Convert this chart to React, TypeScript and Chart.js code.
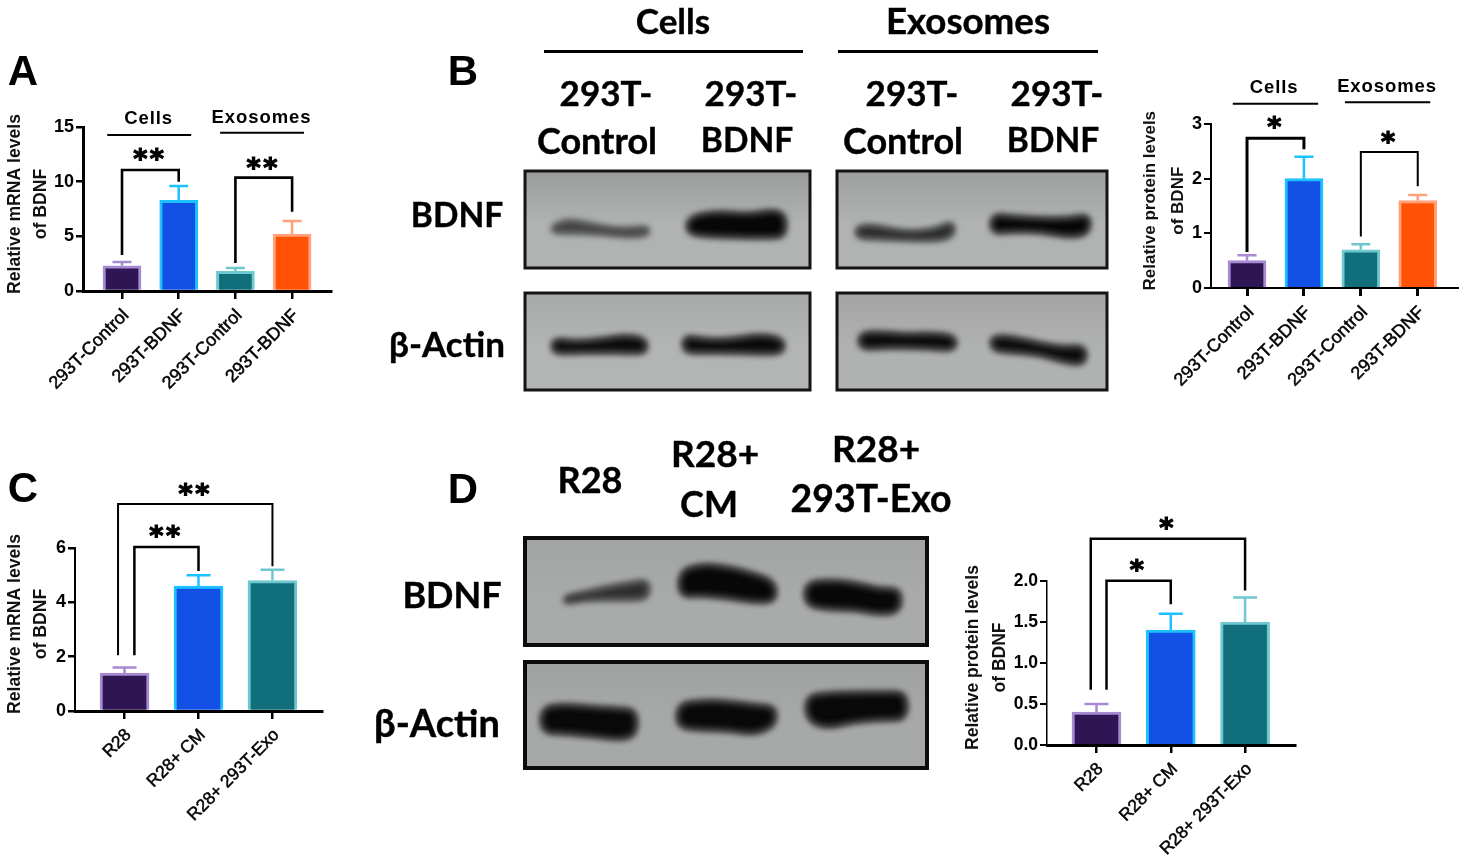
import React, { useEffect, useRef } from "react";
import { Chart, registerables } from "chart.js";

Chart.register(...registerables);

// ---------- data ----------
const labelsTransfected = ["293T-Control", "293T-BDNF", "293T-Control", "293T-BDNF"];
const labelsTreatment = ["R28", "R28+ CM", "R28+ 293T-Exo"];

const panelAValues = [2.3, 8.3, 1.8, 5.2];
const panelAErrorTops = [2.65, 9.6, 2.1, 6.4];
const panelBValues = [0.5, 2.0, 0.7, 1.6];
const panelBErrorTops = [0.6, 2.4, 0.8, 1.7];
const panelCValues = [1.4, 4.6, 4.8];
const panelCErrorTops = [1.6, 5.0, 5.2];
const panelDValues = [0.4, 1.4, 1.5];
const panelDErrorTops = [0.5, 1.6, 1.8];

const fillsABar = ["#2e1654", "#1350e6", "#106f7b", "#ff5205"];
const edgesABar = ["#a78ad2", "#1cc2ff", "#6fc8cf", "#ffa27c"];
const fillsCBar = ["#2e1654", "#1350e6", "#106f7b"];
const edgesCBar = ["#a78ad2", "#1cc2ff", "#6fc8cf"];

// brackets, in axis units: from (x0,y0) up to top, across, down to (x1,y1)
const panelABrackets = [
  { x0: 0, y0: 3.3, x1: 1, y1: 10.0, top: 11.07, w: 2.6 },
  { x0: 2, y0: 2.56, x1: 3, y1: 7.25, top: 10.37, w: 2.6 },
];
const panelBBrackets = [
  { x0: 0, y0: 0.66, x1: 1, y1: 2.54, top: 2.74, w: 3 },
  { x0: 2, y0: 0.94, x1: 3, y1: 1.86, top: 2.49, w: 2 },
];
const panelCBrackets = [
  { x0: -0.088, y0: 2.05, x1: 2, y1: 5.33, top: 7.62, w: 2 },
  { x0: 0.133, y0: 2.05, x1: 1, y1: 5.15, top: 6.04, w: 2.5 },
];
const panelDBrackets = [
  { x0: -0.077, y0: 0.673, x1: 2, y1: 1.883, top: 2.515, w: 2.5 },
  { x0: 0.135, y0: 0.673, x1: 1, y1: 1.715, top: 2.004, w: 2.5 },
];

const panelAStars = [
  { text: "**", x: 0.49, y: 12.5 },
  { text: "**", x: 2.49, y: 11.7 },
];
const panelBStars = [
  { text: "*", x: 0.5, y: 3.02 },
  { text: "*", x: 2.5, y: 2.76 },
];
const panelCStars = [
  { text: "**", x: 0.955, y: 8.16 },
  { text: "**", x: 0.56, y: 6.61 },
];
const panelDStars = [
  { text: "*", x: 0.957, y: 2.706 },
  { text: "*", x: 0.56, y: 2.186 },
];

const panelAHeaders = [
  { text: "Cells", x: 0.47, y: 15.9, lineY: 14.27, from: -0.26, to: 1.22 },
  { text: "Exosomes", x: 2.46, y: 16.0, lineY: 14.48, from: 1.73, to: 3.21 },
];
const panelBHeaders = [
  { text: "Cells", x: 0.475, y: 3.69, lineY: 3.37, from: -0.25, to: 1.25 },
  { text: "Exosomes", x: 2.46, y: 3.7, lineY: 3.4, from: 1.72, to: 3.22 },
];

// ---------- layout of the four charts ----------
const chartConfigs = [
  {
    box: { left: 0, top: 60, width: 345, height: 340, axisX: 83, topY: 127, bottomY: 291, rightX: 331 },
    labels: labelsTransfected, values: panelAValues, tops: panelAErrorTops, fills: fillsABar, edges: edgesABar,
    brackets: panelABrackets, stars: panelAStars, headers: panelAHeaders,
    xMin: -0.688, xMax: 3.686, yMax: 15, step: 5, decimals: 0, barW: 38, capW: 19,
    title: ["Relative mRNA levels", "of BDNF"], titleSize: 17.6, titleLine: 26.5, titlePad: 1.8, titleCenter: 204,
    yBorder: 3, xBorder: 3, yTick: 2.5, xTick: 2.5, tickFont: 18, labelFont: 18,
  },
  {
    box: { left: 1130, top: 60, width: 335, height: 340, axisX: 1211, topY: 124, bottomY: 288, rightX: 1457 },
    labels: labelsTransfected, values: panelBValues, tops: panelBErrorTops, fills: fillsABar, edges: edgesABar,
    brackets: panelBBrackets, stars: panelBStars, headers: panelBHeaders,
    xMin: -0.633, xMax: 3.69, yMax: 3, step: 1, decimals: 0, barW: 38, capW: 19,
    title: ["Relative protein levels", "of BDNF"], titleSize: 17, titleLine: 28, titlePad: 6, titleCenter: 200.7,
    yBorder: 2, xBorder: 2, yTick: 2, xTick: 3, tickFont: 18, labelFont: 18,
  },
  {
    box: { left: 0, top: 470, width: 345, height: 370, axisX: 75, topY: 548, bottomY: 711, rightX: 322 },
    labels: labelsTreatment, values: panelCValues, tops: panelCErrorTops, fills: fillsCBar, edges: edgesCBar,
    brackets: panelCBrackets, stars: panelCStars, headers: [],
    xMin: -0.67, xMax: 2.67, yMax: 6, step: 2, decimals: 0, barW: 49, capW: 24,
    title: ["Relative mRNA levels", "of BDNF"], titleSize: 17.6, titleLine: 26, titlePad: 2, titleCenter: 624,
    yBorder: 2, xBorder: 3, yTick: 2.5, xTick: 2.5, tickFont: 18, labelFont: 17.4,
  },
  {
    box: { left: 955, top: 505, width: 345, height: 357, axisX: 1047, topY: 581, bottomY: 745, rightX: 1295 },
    labels: labelsTreatment, values: panelDValues, tops: panelDErrorTops, fills: fillsCBar, edges: edgesCBar,
    brackets: panelDBrackets, stars: panelDStars, headers: [],
    xMin: -0.666, xMax: 2.672, yMax: 2, step: 0.5, decimals: 1, barW: 49, capW: 24,
    title: ["Relative protein levels", "of BDNF"], titleSize: 17.5, titleLine: 27.7, titlePad: 4, titleCenter: 657.5,
    yBorder: 1.5, xBorder: 3, yTick: 2, xTick: 2.5, tickFont: 17.5, labelFont: 17.4,
  },
];

// ---------- plates and captions around the charts ----------
const panelLetters = [
  { text: "A", x: 23, y: 71 },
  { text: "B", x: 463, y: 71 },
  { text: "C", x: 23, y: 488 },
  { text: "D", x: 463, y: 489 },
];
const blotCaptions = [
  { text: "Cells", x: 673, y: 20, size: 35 },
  { text: "Exosomes", x: 968, y: 20, size: 36.7 },
  { text: "293T-", x: 606, y: 92, size: 35 },
  { text: "Control", x: 597, y: 140, size: 36 },
  { text: "293T-", x: 751, y: 92, size: 35 },
  { text: "BDNF", x: 747, y: 140, size: 33.5 },
  { text: "293T-", x: 912, y: 92, size: 35 },
  { text: "Control", x: 903, y: 140, size: 36 },
  { text: "293T-", x: 1057, y: 92, size: 35 },
  { text: "BDNF", x: 1053, y: 140, size: 33.5 },
  { text: "BDNF", x: 457, y: 215, size: 33.5 },
  { text: "β-Actin", x: 447, y: 343, size: 35 },
  { text: "R28", x: 590, y: 479, size: 36 },
  { text: "R28+", x: 715, y: 452, size: 37 },
  { text: "CM", x: 709, y: 503, size: 36 },
  { text: "R28+", x: 876, y: 447, size: 37 },
  { text: "293T-Exo", x: 871, y: 498, size: 37.4 },
  { text: "BDNF", x: 452, y: 594, size: 36 },
  { text: "β-Actin", x: 437, y: 722, size: 38 },
];
const captionRules = [
  { left: 544, width: 259, top: 50 },
  { left: 838, width: 260, top: 50 },
];

type Band = { pts: number[][]; color: string };
type Frame = { x: number; y: number; w: number; h: number; light: string; dark: string; edge: string; lw: number; bands: Band[] };

const blotFrames: Frame[] = [
  {
    x: 525, y: 171, w: 285, h: 97, light: "#b0b3b1", dark: "#999c9a", edge: "#141414", lw: 3,
    bands: [
      { color: "#3c3d3d", pts: [[553, 229, 3], [570, 226, 6], [600, 230, 3], [625, 233, 3], [648, 231, 4]] },
      { color: "#070707", pts: [[688, 226, 8], [715, 224, 12], [750, 226, 11], [770, 224, 13], [785, 225, 11]] },
    ],
  },
  {
    x: 837, y: 171, w: 270, h: 97, light: "#b0b3b1", dark: "#9c9f9d", edge: "#141414", lw: 3,
    bands: [
      { color: "#252626", pts: [[857, 232, 5], [875, 232, 6], [905, 236, 3], [935, 235, 5], [953, 229, 7]] },
      { color: "#060606", pts: [[992, 224, 9], [1010, 224, 7], [1040, 225, 6], [1070, 228, 9], [1089, 224, 9]] },
    ],
  },
  {
    x: 525, y: 293, w: 285, h: 97, light: "#b3b5b4", dark: "#a8aaa9", edge: "#141414", lw: 3,
    bands: [
      { color: "#0a0a0a", pts: [[553, 346, 7], [575, 347, 5], [600, 346, 6], [625, 344, 8], [646, 346, 7]] },
      { color: "#0a0a0a", pts: [[684, 344, 8], [705, 346, 6], [730, 346, 6], [760, 344, 9], [783, 346, 7]] },
    ],
  },
  {
    x: 837, y: 293, w: 270, h: 97, light: "#b0b2b1", dark: "#a3a3a3", edge: "#141414", lw: 3,
    bands: [
      { color: "#0a0a0a", pts: [[860, 341, 8], [885, 340, 7], [905, 341, 6], [930, 341, 7], [955, 343, 7]] },
      { color: "#0a0a0a", pts: [[992, 343, 7], [1015, 345, 7], [1040, 349, 5], [1065, 355, 7], [1085, 355, 9]] },
    ],
  },
  {
    x: 525, y: 538, w: 402, h: 107, light: "#a9abaa", dark: "#a2a4a3", edge: "#0c0c0c", lw: 4,
    bands: [
      { color: "#2c2d2d", pts: [[565, 600, 3], [585, 596, 3], [610, 593, 6], [635, 591, 8], [648, 589, 8]] },
      { color: "#080808", pts: [[680, 584, 12], [700, 580, 15], [725, 582, 15], [750, 587, 14], [775, 592, 10]] },
      { color: "#080808", pts: [[806, 594, 11], [830, 595, 14], [855, 596, 13], [880, 602, 12], [900, 600, 11]] },
    ],
  },
  {
    x: 525, y: 662, w: 402, h: 106, light: "#a7a9a8", dark: "#a0a2a1", edge: "#0c0c0c", lw: 4,
    bands: [
      { color: "#090909", pts: [[542, 720, 12], [565, 719, 14], [595, 722, 14], [620, 724, 15], [636, 723, 12]] },
      { color: "#090909", pts: [[678, 716, 11], [700, 715, 14], [730, 716, 14], [755, 720, 14], [775, 716, 9]] },
      { color: "#090909", pts: [[807, 708, 11], [825, 711, 17], [855, 707, 14], [885, 706, 13], [906, 706, 13]] },
    ],
  },
];

const sans = '"Liberation Sans", Arial, sans-serif';

function drawBand(ctx: CanvasRenderingContext2D, band: Band) {
  const up = band.pts.map(([x, y, h]) => [x, y - h]);
  const down = band.pts.map(([x, y, h]) => [x, y + h]).reverse();
  const ring = [...up, ...down];
  ctx.beginPath();
  for (let i = 0; i < ring.length; i++) {
    const a = ring[i];
    const b = ring[(i + 1) % ring.length];
    const mx = (a[0] + b[0]) / 2;
    const my = (a[1] + b[1]) / 2;
    if (i === 0) ctx.moveTo(mx, my);
    else ctx.quadraticCurveTo(a[0], a[1], mx, my);
  }
  const a0 = ring[0];
  const b0 = ring[1];
  ctx.quadraticCurveTo(a0[0], a0[1], (a0[0] + b0[0]) / 2, (a0[1] + b0[1]) / 2);
  ctx.closePath();
  ctx.fillStyle = band.color;
  ctx.strokeStyle = band.color;
  ctx.lineWidth = 3;
  ctx.lineJoin = "round";
  ctx.fill();
  ctx.stroke();
}

function drawBlots(canvas: HTMLCanvasElement) {
  const ctx = canvas.getContext("2d");
  if (!ctx) return;
  blotFrames.forEach((f) => {
    ctx.save();
    ctx.beginPath();
    ctx.rect(f.x, f.y, f.w, f.h);
    ctx.clip();
    const g = ctx.createLinearGradient(0, f.y, 0, f.y + f.h);
    g.addColorStop(0, f.dark);
    g.addColorStop(0.55, f.light);
    g.addColorStop(1, f.light);
    ctx.fillStyle = g;
    ctx.fillRect(f.x, f.y, f.w, f.h);
    ctx.filter = "blur(3px)";
    f.bands.forEach((b) => drawBand(ctx, b));
    ctx.restore();
    ctx.save();
    ctx.filter = "blur(0.5px)";
    ctx.strokeStyle = f.edge;
    ctx.lineWidth = f.lw;
    ctx.strokeRect(f.x, f.y, f.w, f.h);
    ctx.restore();
  });
}

// ---------- chart plugin: error bars, brackets, stars, group headers ----------
const annotationsPlugin = {
  id: "figureMarks",
  afterLayout(chart: any, _a: any, opts: any) {
    // the axis title is centred on its own spot, not on the plot height
    const y = chart.scales.y;
    const original = y.drawTitle.bind(y);
    y.drawTitle = () => {
      const { top, bottom } = y;
      y.top = opts.titleCenter - opts.box.top - 160;
      y.bottom = opts.titleCenter - opts.box.top + 160;
      original();
      y.top = top;
      y.bottom = bottom;
    };
  },
  afterDatasetsDraw(chart: any, _a: any, opts: any) {
    const { ctx, scales } = chart;
    const px = (v: number) => scales.x.getPixelForValue(v);
    const py = (v: number) => scales.y.getPixelForValue(v);
    ctx.save();
    ctx.lineCap = "butt";
    opts.tops.forEach((top: number, i: number) => {
      ctx.strokeStyle = opts.edges[i];
      ctx.lineWidth = 2.5;
      ctx.beginPath();
      ctx.moveTo(px(i), py(opts.values[i]));
      ctx.lineTo(px(i), py(top));
      ctx.moveTo(px(i) - opts.capW / 2, py(top));
      ctx.lineTo(px(i) + opts.capW / 2, py(top));
      ctx.stroke();
    });
    ctx.strokeStyle = "#000";
    ctx.lineJoin = "miter";
    opts.brackets.forEach((b: any) => {
      ctx.lineWidth = b.w;
      ctx.beginPath();
      ctx.moveTo(px(b.x0), py(b.y0));
      ctx.lineTo(px(b.x0), py(b.top));
      ctx.lineTo(px(b.x1), py(b.top));
      ctx.lineTo(px(b.x1), py(b.y1));
      ctx.stroke();
    });
    ctx.fillStyle = "#000";
    ctx.textBaseline = "alphabetic";
    ctx.textAlign = "center";
    ctx.font = 'bold 27px "DejaVu Sans"';
    ctx.letterSpacing = "2.5px";
    ctx.lineWidth = 1.2;
    opts.stars.forEach((s: any) => {
      const m = ctx.measureText(s.text);
      const sy = py(s.y) + (m.actualBoundingBoxAscent - m.actualBoundingBoxDescent) / 2;
      ctx.fillText(s.text, px(s.x), sy);
      ctx.strokeText(s.text, px(s.x), sy);
    });
    ctx.letterSpacing = "0.9px";
    ctx.font = `bold 18.5px ${sans}`;
    opts.headers.forEach((h: any) => {
      const m = ctx.measureText(h.text);
      ctx.fillText(h.text, px(h.x), py(h.y) + (m.actualBoundingBoxAscent - m.actualBoundingBoxDescent) / 2);
      ctx.lineWidth = 2;
      ctx.beginPath();
      ctx.moveTo(px(h.from), py(h.lineY));
      ctx.lineTo(px(h.to), py(h.lineY));
      ctx.stroke();
    });
    ctx.restore();
  },
};

function buildChart(canvas: HTMLCanvasElement, c: (typeof chartConfigs)[number]) {
  const { box } = c;
  const yWidth = box.axisX - box.left;
  const xHeight = box.height - (box.bottomY - box.top);
  return new Chart(canvas, {
    type: "bar",
    data: {
      labels: c.labels,
      datasets: [
        {
          data: c.values.map((v, i) => ({ x: i, y: v })),
          backgroundColor: c.fills,
          borderColor: c.edges,
          borderWidth: 3,
          borderSkipped: "bottom",
          barThickness: c.barW,
        },
      ],
    } as any,
    options: {
      animation: false,
      responsive: false,
      maintainAspectRatio: false,
      events: [],
      layout: {
        padding: {
          left: 0,
          top: box.topY - box.top,
          right: box.width - (box.rightX - box.left),
          bottom: 0,
        },
      },
      plugins: {
        legend: { display: false },
        tooltip: { enabled: false },
        figureMarks: {
          box, values: c.values, tops: c.tops, edges: c.edges, brackets: c.brackets,
          stars: c.stars, headers: c.headers, capW: c.capW, titleCenter: c.titleCenter,
        },
      } as any,
      scales: {
        x: {
          type: "linear",
          offset: false,
          min: c.xMin,
          max: c.xMax,
          grid: { offset: false, drawOnChartArea: false, color: "#000", tickLength: 8, lineWidth: c.xTick },
          border: { color: "#000", width: c.xBorder },
          ticks: {
            color: "#000",
            autoSkip: false,
            includeBounds: false,
            minRotation: 45,
            maxRotation: 45,
            padding: 6,
            labelOffset: 4,
            textStrokeColor: "#000",
            textStrokeWidth: 0.5,
            font: { family: sans, size: c.labelFont },
            callback: (v: any) => c.labels[v as number],
          },
          afterBuildTicks: (s: any) => {
            s.ticks = c.labels.map((_, i) => ({ value: i }));
          },
          afterFit: (s: any) => {
            s.height = xHeight;
            s.paddingLeft = 0;
            s.paddingRight = 0;
          },
        },
        y: {
          min: 0,
          max: c.yMax,
          grid: { drawOnChartArea: false, color: "#000", tickLength: 7, lineWidth: c.yTick },
          border: { color: "#000", width: c.yBorder },
          ticks: {
            color: "#000",
            stepSize: c.step,
            padding: 2,
            font: { family: sans, size: c.tickFont, weight: "bold" },
            callback: (v: any) => Number(v).toFixed(c.decimals),
          },
          title: {
            display: true,
            text: c.title,
            color: "#111",
            padding: { top: c.titlePad, bottom: 0 },
            font: { family: sans, size: c.titleSize, weight: "bold", lineHeight: `${c.titleLine}px` },
          },
          afterFit: (s: any) => {
            s.width = yWidth;
            s.paddingTop = 0;
            s.paddingBottom = 0;
          },
        },
      },
    } as any,
    plugins: [annotationsPlugin as any],
  });
}

export default function App() {
  const chartRefs = useRef<(HTMLCanvasElement | null)[]>([]);
  const blotRef = useRef<HTMLCanvasElement | null>(null);

  useEffect(() => {
    if (blotRef.current) drawBlots(blotRef.current);
    const charts = chartConfigs.map((c, i) => buildChart(chartRefs.current[i] as HTMLCanvasElement, c));
    return () => charts.forEach((ch) => ch.destroy());
  }, []);

  return (
    <div style={{ position: "absolute", left: 0, top: 0, width: 1465, height: 862, overflow: "hidden", background: "#fff" }}>
      <canvas ref={blotRef} width={1465} height={862} style={{ position: "absolute", left: 0, top: 0 }} />
      {chartConfigs.map((c, i) => (
        <canvas
          key={i}
          ref={(el) => {
            chartRefs.current[i] = el;
          }}
          width={c.box.width}
          height={c.box.height}
          style={{ position: "absolute", left: c.box.left, top: c.box.top, width: c.box.width, height: c.box.height }}
        />
      ))}
      {panelLetters.map((t) => (
        <div
          key={t.text}
          style={{
            position: "absolute", left: t.x, top: t.y, transform: "translate(-50%,-50%)",
            font: `bold 42px/1 ${sans}`, color: "#000",
          }}
        >
          {t.text}
        </div>
      ))}
      {blotCaptions.map((t, i) => (
        <div
          key={i}
          style={{
            position: "absolute", left: t.x, top: t.y, transform: "translate(-50%,-50%)", whiteSpace: "nowrap",
            font: `bold ${t.size}px/1 Lato, "Noto Sans", sans-serif`, color: "#000",
            WebkitTextStroke: "0.4px #000",
          }}
        >
          {t.text}
        </div>
      ))}
      {captionRules.map((r, i) => (
        <div key={i} style={{ position: "absolute", left: r.left, top: r.top, width: r.width, height: 3, background: "#000" }} />
      ))}
    </div>
  );
}
